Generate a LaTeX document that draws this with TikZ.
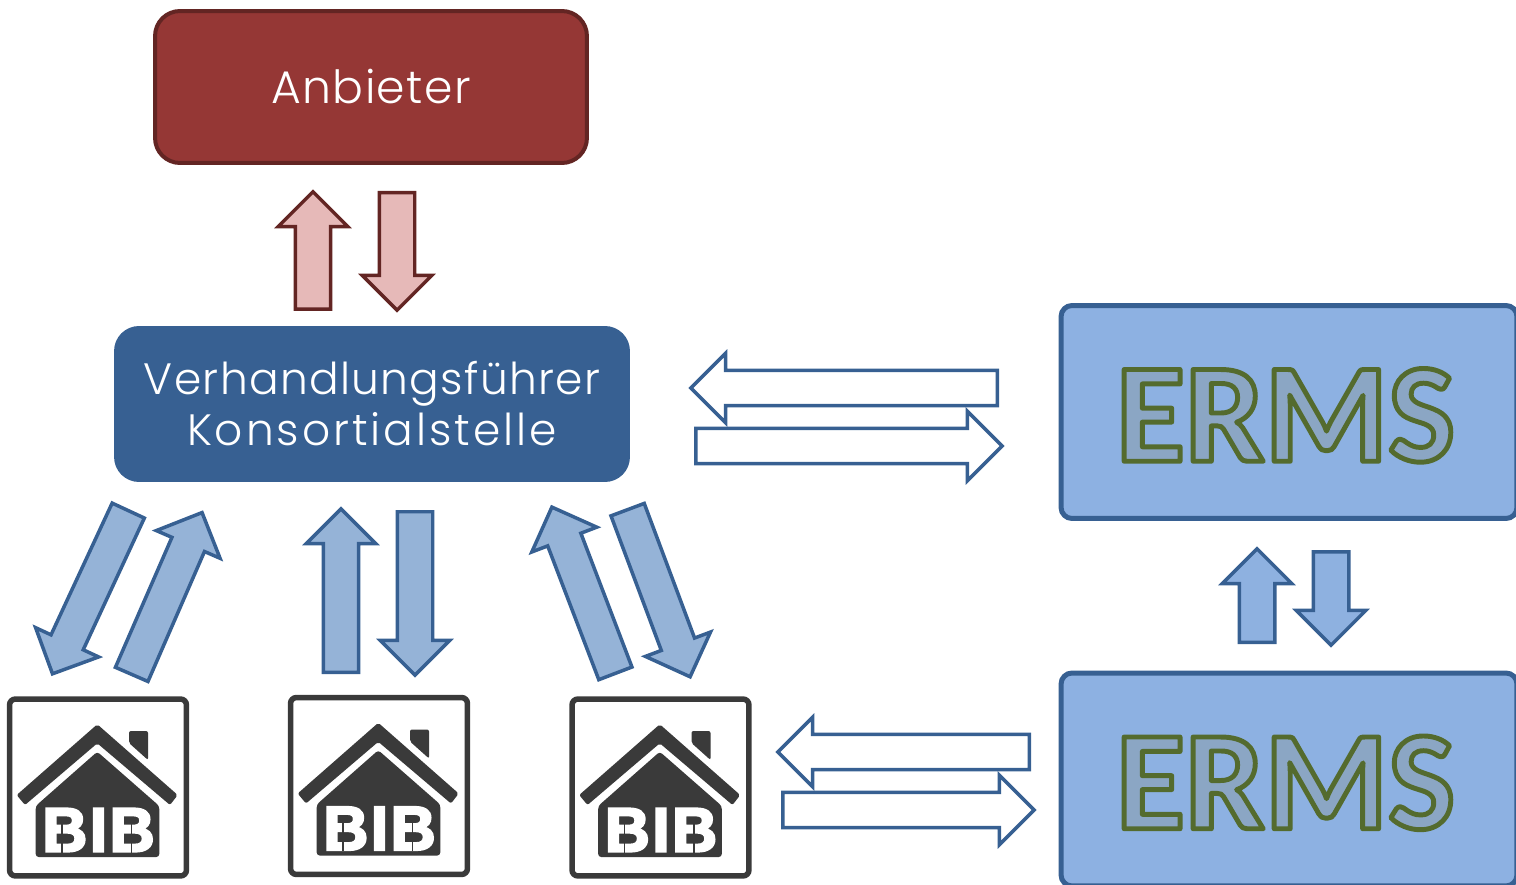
\documentclass[tikz,border=0pt]{standalone}
\usepackage{fontspec}
\setmainfont{Poppins Light}
\newfontfamily\ermsfont{Carlito}[BoldFont=Carlito Bold]
\newfontfamily\iconfont{Liberation Sans}
\usetikzlibrary{positioning,shapes.arrows}
\definecolor{bibdark}{HTML}{3A3A3A}
\definecolor{anbieterfill}{HTML}{953735}
\definecolor{anbieterline}{HTML}{632523}
\definecolor{pinkfill}{HTML}{E6B9B8}
\definecolor{konsfill}{HTML}{376092}
\definecolor{armfill}{HTML}{95B3D7}
\definecolor{ermsfill}{HTML}{8DB1E2}
\definecolor{ermstext}{HTML}{8BA6C4}
\newcommand{\ermsoutline}[1]{\special{pdf:code q 0.33 0.42 0.18 RG 2.8 w 1 j 2 Tr}#1\special{pdf:code Q}\hspace*{0.14cm}}
\newcommand{\bibfat}[1]{\special{pdf:code q 1 1 1 RG 1.3 w 2 Tr}#1\special{pdf:code Q}}
\begin{document}
\begin{tikzpicture}[
		x=0.02cm, y=-0.02cm,
		blockarrow/.style={single arrow, draw=konsfill, fill=armfill, line width=0.07cm, anchor=tail, inner xsep=0pt, inner ysep=0.32cm, single arrow head extend=0.34cm},
		pinkarrow/.style={blockarrow, draw=anbieterline, fill=pinkfill},
		whitearrow/.style={blockarrow, fill=white},
		softarrow/.style={blockarrow, fill=ermsfill!85!armfill},
		roundbox/.style={rounded corners=0.5cm, text=white, align=center},
		ermsbox/.style={draw=konsfill, fill=ermsfill, line width=0.1cm, rounded corners=0.22cm, minimum width=9.12cm, minimum height=4.26cm, text=ermstext, text height=1.97cm, text depth=0cm, font=\ermsfont\bfseries\fontsize{80.5}{80.5}\selectfont},
		bibicon/.pic={
			\node (-frame) [draw=bibdark, fill=white, line width=0.11cm, rounded corners=0.12cm, minimum size=3.54cm] at (0,0) {};
			\fill[bibdark, rounded corners=0.04cm] (-0.7,-63.2) -- (-81.3,7.5) -- (-73,17.5) -- (-0.7,-44.2) -- (72,17.5) -- (79.7,7.5) -- cycle;
			\fill[bibdark, rounded corners=0.04cm] (31,-44.5) -- (31,-56.5) -- (50,-56.5) -- (50,-27.5) -- cycle;
			\fill[bibdark, rounded corners=0.06cm] (-0.7,-35.8) -- (-62.3,18.5) -- (-62.3,69.5) -- (61.3,69.5) -- (61.3,18.5) -- cycle;
			\node (-name) [text=white, inner sep=0pt, font=\iconfont\bfseries\addfontfeatures{LetterSpace=4}\fontsize{35.5}{36}\selectfont] at (0.5,42.5) {\bibfat{BIB}};
			\draw[bibdark, line width=0.03cm] (-31,31) -| (-36,65) (-36,50.5) -- (-28,50.5) (38.7,31) -| (33.7,65) (33.7,50.5) -- (41.7,50.5);
		},
	]
	\path[use as bounding box, clip] (0,0) rectangle (1516,885);

	\node (anbieter) [roundbox, draw=anbieterline, fill=anbieterfill, line width=0.08cm, minimum width=8.64cm, minimum height=3.04cm, font=\addfontfeatures{LetterSpace=3}\fontsize{26}{29}\selectfont] at (371,87) {Anbieter};
	\node (stelle) [roundbox, fill=konsfill, minimum width=10.32cm, minimum height=3.12cm, font=\addfontfeatures{LetterSpace=3}\fontsize{25}{29}\selectfont] at (372,404) {Verhandlungsführer\\\addfontfeatures{LetterSpace=6.7}Konsortialstelle};
	\node (erms1) [ermsbox] at (1289,412) {\ermsoutline{ERMS}};
	\node (erms2) [ermsbox] at (1289,779.5) {\ermsoutline{ERMS}};

	\pic (bib1) at (98,787.5) {bibicon};
	\pic (bib2) at (379,786) {bibicon};
	\pic (bib3) at (660.5,787.5) {bibicon};

	% Anbieter
	\node (pinkup) [pinkarrow, rotate=90, minimum height=2.35cm] at (313,311) {};
	\node (pinkdown) [pinkarrow, rotate=-90, minimum height=2.35cm] at (397,191) {};
	% Bibliotheken
	\node (armA) [blockarrow, rotate=245.1, minimum height=3.6cm] at (129,509) {};
	\node (armB) [blockarrow, rotate=66.5, minimum height=3.53cm] at (131,676) {};
	\node (armC) [blockarrow, rotate=90, minimum height=3.27cm] at (341,674) {};
	\node (armD) [blockarrow, rotate=-90, minimum height=3.27cm] at (415,510) {};
	\node (armE) [blockarrow, rotate=110.9, minimum height=3.56cm] at (616,675) {};
	\node (armF) [blockarrow, rotate=-69.5, minimum height=3.57cm] at (627,508) {};
	% ERMS
	\node (syncA) [whitearrow, rotate=180, minimum height=6.13cm] at (999,388) {};
	\node (syncB) [whitearrow, minimum height=6.13cm] at (694,446) {};
	\node (syncC) [whitearrow, rotate=180, minimum height=5.03cm] at (1031,752) {};
	\node (syncD) [whitearrow, minimum height=5.03cm] at (781,810) {};
	\node (ermsup) [softarrow, rotate=90, minimum height=1.87cm] at (1257,644) {};
	\node (ermsdown) [softarrow, rotate=-90, minimum height=1.87cm] at (1331,550) {};
\end{tikzpicture}
\end{document}
